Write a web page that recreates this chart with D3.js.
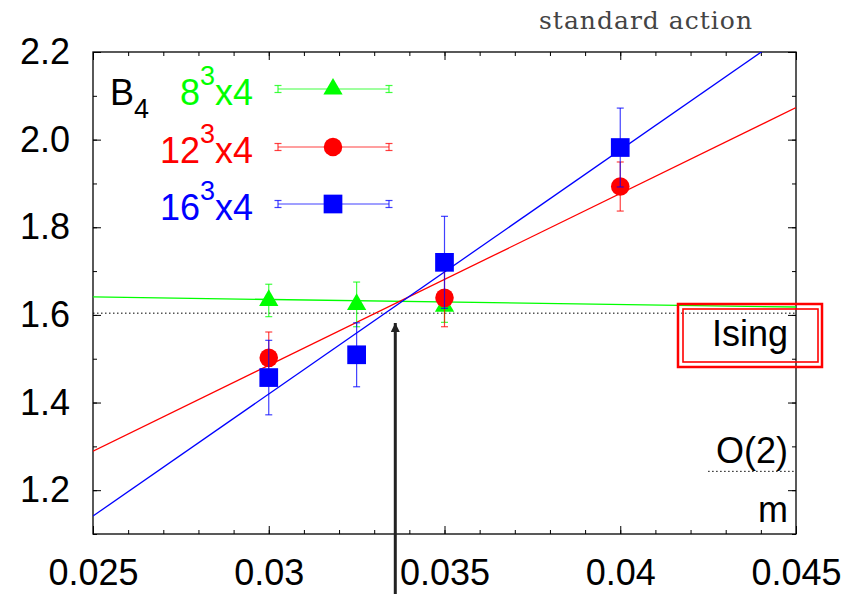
<!DOCTYPE html>
<html lang="en">
<head>
  <meta charset="UTF-8">
  <title>B4 standard action</title>
  <script src="https://d3js.org/d3.v7.min.js"></script>
  <style>
    body { margin: 0; background: #fff; }
    svg { display: block; font-family: "Liberation Sans", Arial, sans-serif; }
    .axis path { display: none; }
    .axis line { stroke: #000; stroke-width: 1; }
    .axis text { font-size: 36px; fill: #000; font-family: "Liberation Sans", Arial, sans-serif; }
  </style>
</head>
<body>
  <svg width="845" height="594"></svg>

  <script>
    // tick labels
    const xTicks = [0.025, 0.03, 0.035, 0.04, 0.045];
    const yTicks = [1.2, 1.4, 1.6, 1.8, 2.0, 2.2];

    // series: 8^3x4, 12^3x4, 16^3x4
    const seriesNames = ["8", "12", "16"];
    const seriesColors = ["#00ff00", "#ff0000", "#0000ff"];
    const seriesSymbols = ["triangle", "circle", "square"];

    const x8 = [0.03, 0.0325, 0.035];
    const b8 = [1.633, 1.624, 1.620];
    const e8 = [0.037, 0.051, 0.037];

    const x12 = [0.03, 0.035, 0.04];
    const b12 = [1.502, 1.639, 1.893];
    const e12 = [0.059, 0.066, 0.056];

    const x16 = [0.03, 0.0325, 0.035, 0.04];
    const b16 = [1.457, 1.509, 1.720, 1.982];
    const e16 = [0.085, 0.073, 0.105, 0.090];

    // linear fits, evaluated at the ends of the x range
    const fitX = [0.025, 0.045];
    const fit8 = [1.641, 1.618];
    const fit12 = [1.289, 2.073];
    const fit16 = [1.141, 2.255];

    // reference values
    const isingB4 = 1.604;
    const o2B4 = 1.243;
    const arrowX = 0.0336;

    const svgWidth = 845, svgHeight = 594;
    const margin = { top: 52, right: 49, bottom: 60, left: 93 };
    const width = svgWidth - margin.left - margin.right;
    const height = svgHeight - margin.top - margin.bottom;

    const svg = d3.select("svg");

    const xScale = d3.scaleLinear().domain([0.025, 0.045]).range([margin.left, margin.left + width]);
    const yScale = d3.scaleLinear().domain([1.1, 2.2]).range([margin.top + height, margin.top]);

    svg.append("defs").append("clipPath").attr("id", "plot-clip")
       .append("rect")
       .attr("x", margin.left).attr("y", margin.top)
       .attr("width", width).attr("height", height);

    // minor + major ticks on all four sides (inward)
    const xMinor = d3.range(25, 46).map(d => d / 1000);
    const yMinor = d3.range(11, 23).map(d => d / 10);

    const bottom = margin.top + height, right = margin.left + width;

    svg.append("g").attr("class", "axis").attr("transform", `translate(0,${bottom})`)
       .call(d3.axisBottom(xScale).tickValues(xMinor).tickSize(-4).tickFormat(""));
    svg.append("g").attr("class", "axis").attr("transform", `translate(0,${margin.top})`)
       .call(d3.axisTop(xScale).tickValues(xMinor).tickSize(-4).tickFormat(""));
    svg.append("g").attr("class", "axis").attr("transform", `translate(${margin.left},0)`)
       .call(d3.axisLeft(yScale).tickValues(yMinor).tickSize(-4).tickFormat(""));
    svg.append("g").attr("class", "axis").attr("transform", `translate(${right},0)`)
       .call(d3.axisRight(yScale).tickValues(yMinor).tickSize(-4).tickFormat(""));

    svg.append("g").attr("class", "axis").attr("transform", `translate(0,${bottom})`)
       .call(d3.axisBottom(xScale).tickValues(xTicks).tickSize(-8).tickPadding(25).tickFormat(d3.format("")));
    svg.append("g").attr("class", "axis").attr("transform", `translate(0,${margin.top})`)
       .call(d3.axisTop(xScale).tickValues(xTicks).tickSize(-8).tickFormat(""));
    svg.append("g").attr("class", "axis").attr("transform", `translate(${margin.left},0)`)
       .call(d3.axisLeft(yScale).tickValues(yTicks).tickSize(-8).tickPadding(23).tickFormat(d3.format(".1f")));
    svg.append("g").attr("class", "axis").attr("transform", `translate(${right},0)`)
       .call(d3.axisRight(yScale).tickValues(yTicks).tickSize(-8).tickFormat(""));

    // frame
    svg.append("rect")
       .attr("x", margin.left).attr("y", margin.top)
       .attr("width", width).attr("height", height)
       .attr("fill", "none").attr("stroke", "#000").attr("stroke-width", 1.3);

    // Ising reference line
    svg.append("line")
       .attr("x1", xScale(0.025)).attr("x2", xScale(0.045))
       .attr("y1", yScale(isingB4)).attr("y2", yScale(isingB4))
       .attr("stroke", "#000").attr("stroke-width", 1).attr("stroke-dasharray", "1.5,2.5");

    // O(2) reference (short dotted segment at the right)
    svg.append("line")
       .attr("x1", xScale(0.0425)).attr("x2", xScale(0.045))
       .attr("y1", yScale(o2B4)).attr("y2", yScale(o2B4))
       .attr("stroke", "#000").attr("stroke-width", 1).attr("stroke-dasharray", "1.5,2.5");

    const plot = svg.append("g").attr("clip-path", "url(#plot-clip)");

    // fit lines
    const fits = [fit8, fit12, fit16];
    fits.forEach((f, i) => {
      plot.append("line")
          .attr("x1", xScale(fitX[0])).attr("y1", yScale(f[0]))
          .attr("x2", xScale(fitX[1])).attr("y2", yScale(f[1]))
          .attr("stroke", seriesColors[i]).attr("stroke-width", 1.3);
    });

    const symbolType = { triangle: d3.symbolTriangle, circle: d3.symbolCircle, square: d3.symbolSquare };
    const symbolSize = { triangle: 160, circle: 270, square: 350 };

    function errBar(g, cx, y0, y1, color) {
      g.append("line").attr("x1", cx).attr("x2", cx).attr("y1", y0).attr("y2", y1)
       .attr("stroke", color).attr("stroke-width", 1.2).attr("stroke-opacity", 0.75);
      [y0, y1].forEach(yy => g.append("line")
        .attr("x1", cx - 3.5).attr("x2", cx + 3.5).attr("y1", yy).attr("y2", yy)
        .attr("stroke", color).attr("stroke-width", 1.2).attr("stroke-opacity", 0.75));
    }

    const seriesData = [[x8, b8, e8], [x12, b12, e12], [x16, b16, e16]];
    seriesData.forEach(([xs, bs, es], i) => {
      const g = svg.append("g");
      xs.forEach((xv, j) => {
        errBar(g, xScale(xv), yScale(bs[j] + es[j]), yScale(bs[j] - es[j]), seriesColors[i]);
      });
      xs.forEach((xv, j) => {
        g.append("path")
         .attr("d", d3.symbol().type(symbolType[seriesSymbols[i]]).size(symbolSize[seriesSymbols[i]])())
         .attr("transform", `translate(${xScale(xv)},${yScale(bs[j])})`)
         .attr("fill", seriesColors[i]);
      });
    });

    // legend
    const legendRows = [89, 147, 204];
    const legend = svg.append("g");
    seriesNames.forEach((name, i) => {
      const ly = legendRows[i];
      const t = legend.append("text")
        .attr("x", 253).attr("y", ly + 16)
        .attr("text-anchor", "end")
        .attr("font-size", 36)
        .attr("fill", seriesColors[i]);
      t.append("tspan").text(name);
      t.append("tspan").attr("font-size", 27).attr("dy", -20).text("3");
      t.append("tspan").attr("dy", 20).text("x4");

      errBar(legend, 278, ly - 3.5, ly + 3.5, seriesColors[i]);
      errBar(legend, 389, ly - 3.5, ly + 3.5, seriesColors[i]);
      legend.append("line").attr("x1", 278).attr("x2", 389).attr("y1", ly).attr("y2", ly)
        .attr("stroke", seriesColors[i]).attr("stroke-width", 1.2).attr("stroke-opacity", 0.75);
      legend.append("path")
        .attr("d", d3.symbol().type(symbolType[seriesSymbols[i]]).size(symbolSize[seriesSymbols[i]])())
        .attr("transform", `translate(333,${ly})`)
        .attr("fill", seriesColors[i]);
    });

    const bLabel = legend.append("text").attr("x", 110).attr("y", 105).attr("font-size", 36).attr("fill", "#000");
    bLabel.append("tspan").text("B");
    bLabel.append("tspan").attr("font-size", 27).attr("dy", 13).text("4");

    // Ising box
    svg.append("rect").attr("x", 678).attr("y", 304).attr("width", 144).attr("height", 63)
       .attr("fill", "none").attr("stroke", "#ff0000").attr("stroke-width", 2.5);
    svg.append("rect").attr("x", 683).attr("y", 309).attr("width", 135).attr("height", 53)
       .attr("fill", "none").attr("stroke", "#ff0000").attr("stroke-width", 1.6);

    const sideLabels = [["Ising", 346], ["O(2)", 463], ["m", 522]];
    sideLabels.forEach(([s, yy]) => {
      svg.append("text").attr("x", 788).attr("y", yy)
         .attr("text-anchor", "end").attr("font-size", 36).attr("fill", "#000").text(s);
    });

    // arrow at the crossing point
    svg.append("defs").append("marker")
       .attr("id", "arrowhead").attr("viewBox", "0 0 10 10")
       .attr("refX", 10).attr("refY", 5)
       .attr("markerWidth", 3).attr("markerHeight", 3)
       .attr("orient", "auto")
       .append("path").attr("d", "M0,0 L10,5 L0,10 Z").attr("fill", "#222");
    svg.append("line")
       .attr("x1", xScale(arrowX)).attr("x2", xScale(arrowX))
       .attr("y1", svgHeight).attr("y2", 323)
       .attr("stroke", "#222").attr("stroke-width", 3)
       .attr("marker-end", "url(#arrowhead)");

    // title
    svg.append("text").attr("x", 539).attr("y", 29)
       .attr("font-family", "'DejaVu Serif', serif").attr("font-size", 25)
       .attr("textLength", 213).attr("fill", "#444").text("standard action");
  </script>
</body>
</html>
